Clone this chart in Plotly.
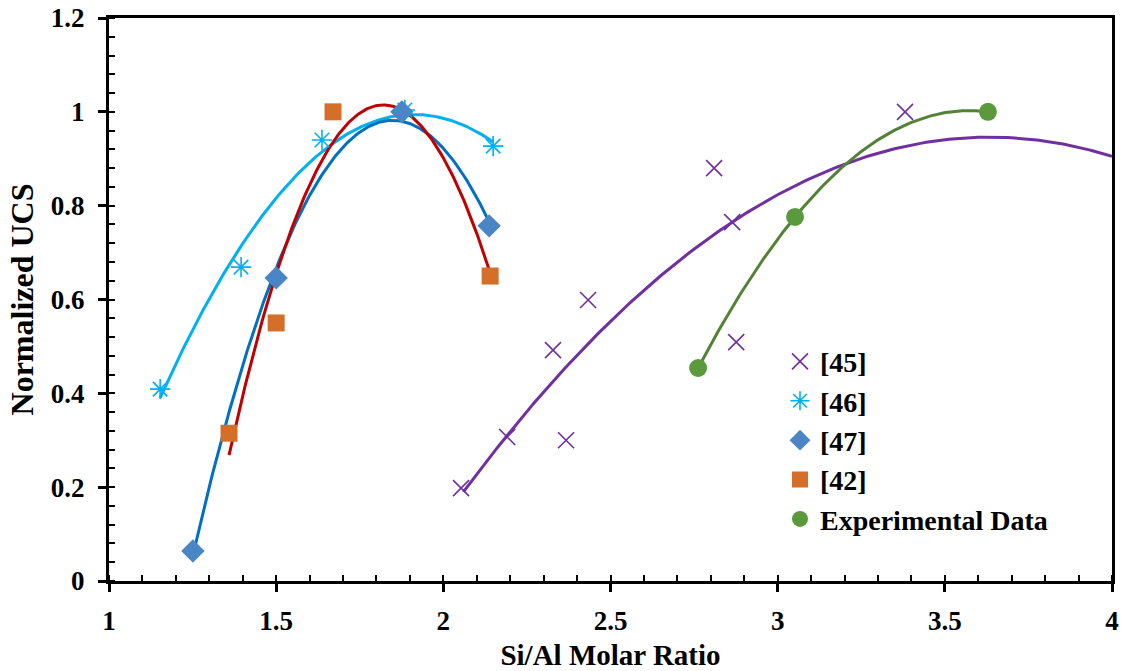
import numpy as np
import plotly.graph_objects as go

# ---- data ----
x45 = [2.053, 2.191, 2.328, 2.367, 2.433, 2.810, 2.864, 2.876, 3.381]
y45 = [0.198, 0.307, 0.492, 0.300, 0.599, 0.880, 0.765, 0.509, 1.000]
# quadratic trendline of [45] as drawn in the reference (a, b, c), x range
trend45_coef = [-0.3052, 2.2182, -3.0845]
trend45_range = [2.06, 4.0]

x46 = [1.153, 1.395, 1.637, 1.885, 2.149]
y46 = [0.409, 0.669, 0.940, 1.004, 0.927]

x47 = [1.251, 1.500, 1.876, 2.137]
y47 = [0.064, 0.646, 1.000, 0.757]

x42 = [1.359, 1.500, 1.670, 2.140]
y42 = [0.315, 0.550, 1.000, 0.650]

xexp = [2.762, 3.052, 3.629]
yexp = [0.454, 0.776, 1.000]

x_ticks = [1, 1.5, 2, 2.5, 3, 3.5, 4]
x_ticklabels = ["1", "1.5", "2", "2.5", "3", "3.5", "4"]
y_ticks = [0, 0.2, 0.4, 0.6, 0.8, 1.0, 1.2]
y_ticklabels = ["0", "0.2", "0.4", "0.6", "0.8", "1", "1.2"]

FONT = "Liberation Serif"

def trend(xs, ys, deg=2):
    c = np.polyfit(xs, ys, deg)
    xx = np.linspace(min(xs), max(xs), 200)
    return xx, np.polyval(c, xx)

fig = go.Figure()

# trendlines
xx45 = np.linspace(trend45_range[0], trend45_range[1], 200)
fig.add_trace(go.Scatter(x=xx45, y=np.polyval(trend45_coef, xx45), mode="lines",
                         line=dict(color="#7030A0", width=3), showlegend=False, hoverinfo="skip"))
for xs, ys, col in [
    (x46, y46, "#00B0F0"),
    (x47, y47, "#0070C0"),
    (x42, y42, "#C00000"),
    (xexp, yexp, "#538135"),
]:
    xx, yy = trend(xs, ys)
    fig.add_trace(go.Scatter(x=xx, y=yy, mode="lines", line=dict(color=col, width=3),
                             showlegend=False, hoverinfo="skip"))

# markers
fig.add_trace(go.Scatter(x=x45, y=y45, mode="markers", name="[45]", legendgroup="a",
                         marker=dict(symbol="x-thin-open", size=16, color="#7030A0",
                                     line=dict(color="#7030A0", width=1.6))))
fig.add_trace(go.Scatter(x=x46, y=y46, mode="markers", name="[46]", legendgroup="b",
                         marker=dict(symbol="asterisk-open", size=17, color="#00B0F0",
                                     line=dict(color="#00B0F0", width=1.6))))
fig.add_trace(go.Scatter(x=x47, y=y47, mode="markers", name="[47]", legendgroup="c",
                         marker=dict(symbol="diamond", size=18, color="#4A86C5",
                                     line=dict(width=0))))
fig.add_trace(go.Scatter(x=x42, y=y42, mode="markers", name="[42]", legendgroup="d",
                         marker=dict(symbol="square", size=17, color="#D46F2A",
                                     line=dict(width=0))))
fig.add_trace(go.Scatter(x=xexp, y=yexp, mode="markers", name="Experimental Data", legendgroup="e",
                         marker=dict(symbol="circle", size=18, color="#5B9A3C",
                                     line=dict(width=0))))

axis_common = dict(
    showline=True, linecolor="black", linewidth=3, mirror=True,
    ticks="outside", ticklen=8, tickwidth=3, tickcolor="black",
    showgrid=False, zeroline=False, automargin=False,
    tickfont=dict(family=FONT, size=27, color="black", weight="bold"),
)

fig.update_xaxes(range=[1, 4], tickvals=x_ticks, ticktext=x_ticklabels,
                 ticklabelstandoff=6,
                 minor=dict(dtick=0.1, ticks="inside", ticklen=6, tickwidth=2, tickcolor="black"),
                 title=dict(text="Si/Al Molar Ratio", standoff=16,
                            font=dict(family=FONT, size=29, color="black", weight="bold")),
                 **axis_common)
fig.update_yaxes(range=[0, 1.2], tickvals=y_ticks, ticktext=y_ticklabels,
                 ticklabelstandoff=8,
                 minor=dict(dtick=0.04, ticks="inside", ticklen=6, tickwidth=2, tickcolor="black"),
                 title=dict(text="Normalized UCS", standoff=8,
                            font=dict(family=FONT, size=32, color="black", weight="bold")),
                 **axis_common)

fig.update_layout(
    width=1130, height=671,
    margin=dict(l=109, r=18, t=18, b=90),
    paper_bgcolor="white", plot_bgcolor="white",
    legend=dict(x=0.669, y=0.434, xanchor="left", yanchor="top",
                bgcolor="rgba(0,0,0,0)", borderwidth=0,
                traceorder="grouped", tracegroupgap=0,
                font=dict(family=FONT, size=28, color="black", weight="bold")),
)

fig.write_html("out.html")
